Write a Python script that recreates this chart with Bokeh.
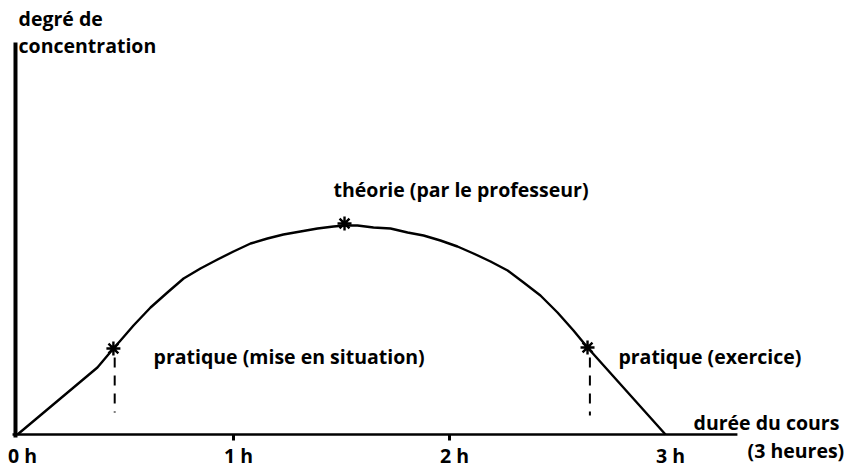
from bokeh.plotting import figure
from bokeh.models import Range1d
from bokeh.core.properties import value
from bokeh.embed import file_html
from bokeh.resources import INLINE

# ---- data ----
# time in hours, concentration in arbitrary units
curve_hours = [0.0, 0.370, 0.444, 0.477, 0.537, 0.616, 0.694, 0.769, 0.847, 0.926,
               1.000, 1.079, 1.157, 1.231, 1.310, 1.389, 1.463, 1.514, 1.574, 1.648,
               1.727, 1.806, 1.880, 1.958, 2.037, 2.111, 2.190, 2.269, 2.343, 2.421,
               2.500, 2.574, 2.639, 3.0]
curve_level = [0, 67, 86, 94, 109, 127, 142, 156, 166, 175,
               183, 191, 196, 200, 203, 206, 208, 209, 209, 207,
               206, 202, 199, 194, 188, 181, 173, 164, 152, 139,
               122, 104, 87, 0]

key_hours = [0.444, 1.514, 2.639]
key_level = [86, 211, 87]
key_labels = ["pratique (mise en situation)", "théorie (par le professeur)", "pratique (exercice)"]

drop_hours = [0.45, 2.65]
drop_top = [77, 77]
drop_bottom = [22, 19]

tick_hours = [0, 1, 2, 3]
tick_labels = ["0 h", "1 h", "2 h", "3 h"]

y_title = ["degré de", "concentration"]
x_title = ["durée du cours", "(3 heures)"]

FONT = "Open Sans"
FS = "19.5px"
W, H = 851, 469
X0, SCALE, Y0 = 17, 216, 434   # pixel position of origin, px per hour

p = figure(width=W, height=H, output_backend="svg", toolbar_location=None,
           x_range=Range1d(-X0 / SCALE, (W - X0) / SCALE),
           y_range=Range1d(-(H - Y0), Y0))
p.min_border = 0
p.min_border_left = p.min_border_right = p.min_border_top = p.min_border_bottom = 0
p.axis.visible = False
p.grid.visible = False
p.outline_line_color = None
p.background_fill_color = "white"
p.border_fill_color = "white"

# axes drawn as lines
p.segment(x0=[-0.0093], y0=[-3], x1=[-0.0093], y1=[392], line_color="black", line_width=4)
p.segment(x0=[-0.023], y0=[0], x1=[3.333], y1=[0], line_color="black", line_width=2.5)
inner = tick_hours[1:-1]
p.segment(x0=inner, y0=[0] * len(inner), x1=inner, y1=[-6] * len(inner),
          line_color="black", line_width=3)

# curve
p.line(curve_hours, curve_level, line_color="black", line_width=2.4, line_join="round")

# dashed drops
p.segment(x0=drop_hours, y0=drop_top, x1=drop_hours, y1=drop_bottom,
          line_color="black", line_width=2, line_dash="10 8")

# markers
p.scatter(key_hours, key_level, marker="asterisk", size=14, line_color="black", line_width=2.4)

TXT = dict(text_font=value(FONT), text_font_size=FS, text_color="black",
           text_font_style="bold", text_baseline="alphabetic")

# key labels
p.text(x=[0.63, 1.463, 2.782], y=[78, 245, 78], text=key_labels, text_align="left", **TXT)

# tick labels
p.text(x=tick_hours, y=[-21] * len(tick_hours), text=tick_labels, x_offset=5,
       text_align="center", **TXT)

# axis titles
p.text(x=[0.005, 0.005], y=[416, 389], text=y_title, text_align="left", **TXT)
p.text(x=[3.13, 3.38], y=[12, -16], text=x_title, text_align="left", **TXT)

open("out.html", "w").write(file_html(p, INLINE))
